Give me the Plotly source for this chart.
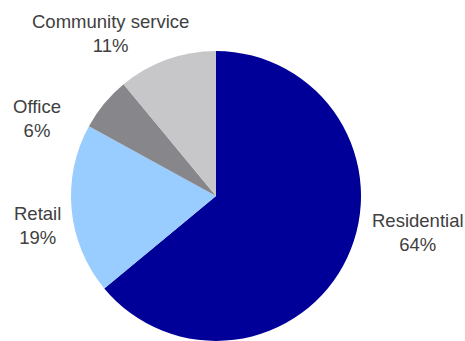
import plotly.graph_objects as go

labels = ["Residential", "Retail", "Office", "Community service"]
values = [64, 19, 6, 11]
colors = ["#000099", "#99CCFF", "#87878B", "#C7C6C9"]

W, H = 465, 341
# label block centres in pixels (x, y from top)
label_pos = [(418, 233), (37, 225), (37, 118), (110, 33)]

fig = go.Figure(go.Pie(
    labels=labels,
    values=values,
    sort=False,
    direction="clockwise",
    rotation=0,
    marker=dict(colors=colors, line=dict(width=0)),
    textinfo="none",
    domain=dict(x=[71 / W, 361 / W], y=[0.0, 1 - 51 / H]),
    showlegend=False,
    hoverinfo="none",
))

total = sum(values)
for lab, val, (px, py) in zip(labels, values, label_pos):
    fig.add_annotation(
        x=px / W, y=1 - py / H, xref="paper", yref="paper",
        text=f"{lab}<br>{round(100 * val / total)}%",
        showarrow=False, xanchor="center", yanchor="middle", align="center",
        font=dict(family="Liberation Sans, Arial, sans-serif", size=18.5, color="#404040"),
    )

fig.update_layout(
    width=W, height=H,
    margin=dict(l=0, r=0, t=0, b=0),
    paper_bgcolor="white",
    plot_bgcolor="white",
)
fig.write_html("out.html")
